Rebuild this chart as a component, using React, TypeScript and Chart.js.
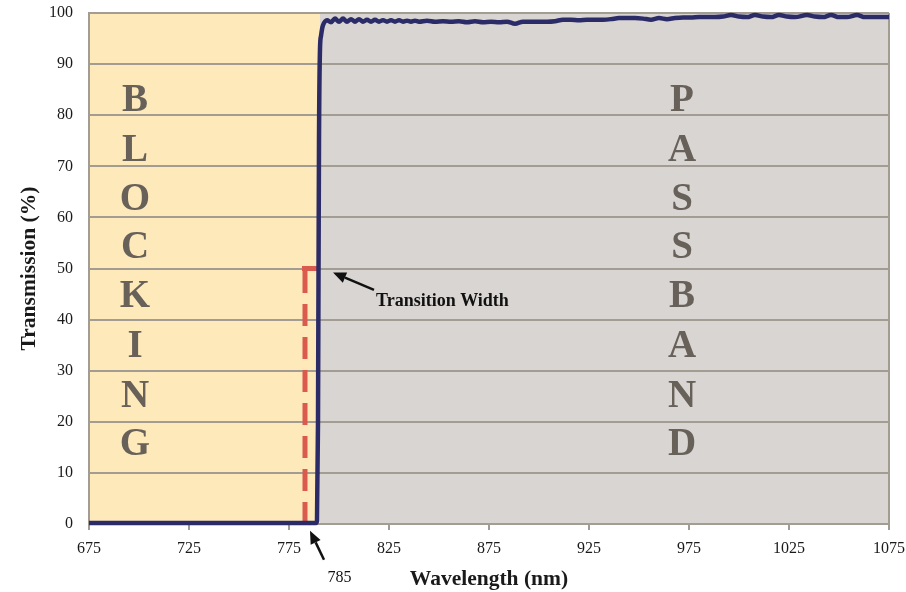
import { useEffect, useRef } from "react";
import { Chart, registerables } from "chart.js";

Chart.register(...registerables);

// ---- data ----
const wavelengths = [
  675, 700, 750, 780, 788.5, 789, 789.5, 790, 790.5, 791, 791.5, 792,
  794, 796, 798, 800, 802, 804, 806, 808, 810, 812, 814, 816, 818, 820,
  822, 824, 826, 828, 830, 832, 834, 836, 838, 840, 844, 848, 852, 856,
  860, 864, 868, 872, 876, 880, 884, 888, 892, 896, 900, 904, 908, 912,
  916, 920, 924, 928, 932, 936, 940, 944, 948, 952, 956, 960, 964, 968,
  972, 976, 980, 984, 988, 992, 996, 1000, 1004, 1008, 1012, 1016, 1020,
  1024, 1028, 1034, 1038, 1042, 1046, 1050, 1054, 1059, 1063, 1068, 1075,
];
const transmission = [
  0.2, 0.2, 0.2, 0.2, 0.2, 0.6, 20, 75, 93, 95.5, 96.8, 97.6,
  98.6, 98.2, 98.9, 98.3, 98.9, 98.3, 98.8, 98.3, 98.8, 98.3, 98.7, 98.3, 98.7, 98.3,
  98.6, 98.3, 98.6, 98.3, 98.6, 98.3, 98.5, 98.3, 98.5, 98.3, 98.5, 98.3, 98.4, 98.3,
  98.4, 98.2, 98.4, 98.2, 98.3, 98.2, 98.3, 97.9, 98.3, 98.3, 98.3, 98.3, 98.4, 98.7,
  98.7, 98.6, 98.7, 98.7, 98.7, 98.8, 99.0, 99.0, 99.0, 98.9, 98.7, 99.0, 98.8, 99.0,
  99.1, 99.1, 99.2, 99.2, 99.2, 99.3, 99.6, 99.3, 99.2, 99.6, 99.3, 99.2, 99.6,
  99.3, 99.2, 99.6, 99.3, 99.2, 99.6, 99.2, 99.2, 99.6, 99.2, 99.2, 99.2,
];

const xMin = 675;
const xMax = 1075;
const xStep = 50;
const yMin = 0;
const yMax = 100;
const yStep = 10;

const blockingLetters = ["B", "L", "O", "C", "K", "I", "N", "G"];
const passbandLetters = ["P", "A", "S", "S", "B", "A", "N", "D"];
const letterRows = [82.8, 73.0, 63.5, 54.0, 44.4, 34.6, 24.8, 15.5];
const blockingColumn = 698;
const passbandColumn = 971.5;

const blockingEdge = 790.5;
const cutOnMarker = 783;
const halfLevel = 50;
const halfLineStart = 781.5;

const transitionLabel = "Transition Width";
const transitionLabelPos = [818.5, 43.6];
const transitionArrowTail = [817.5, 45.8];
const transitionArrowTip = [797, 49.2];

const cutOnLabel = "785";
const cutOnLabelPos = [800.2, -10.6];
const cutOnArrowTail = [792.5, -7.0];
const cutOnArrowTip = [785.5, -1.3];

// ---- styles ----
const YELLOW = "#fde9ba";
const GRAY_BG = "#d9d5d3";
const GRID = "#a29c93";
const LETTER = "#67615a";
const RED = "#db5a4e";
const BLUE = "#2b2b68";
const SERIF = "'Liberation Serif', 'Times New Roman', serif";

function drawArrow(ctx: CanvasRenderingContext2D, x1: number, y1: number, x2: number, y2: number) {
  const ang = Math.atan2(y2 - y1, x2 - x1);
  const head = 13;
  const half = 5.5;
  const bx = x2 - head * Math.cos(ang);
  const by = y2 - head * Math.sin(ang);
  ctx.save();
  ctx.strokeStyle = "#111";
  ctx.fillStyle = "#111";
  ctx.lineWidth = 2.5;
  ctx.beginPath();
  ctx.moveTo(x1, y1);
  ctx.lineTo(bx, by);
  ctx.stroke();
  ctx.beginPath();
  ctx.moveTo(x2, y2);
  ctx.lineTo(bx + half * Math.sin(ang), by - half * Math.cos(ang));
  ctx.lineTo(bx - half * Math.sin(ang), by + half * Math.cos(ang));
  ctx.closePath();
  ctx.fill();
  ctx.restore();
}

const decorPlugin = {
  id: "decor",
  beforeDraw(chart: any) {
    const { ctx, chartArea: a, scales } = chart;
    const xe = scales.x.getPixelForValue(blockingEdge);
    ctx.save();
    ctx.fillStyle = YELLOW;
    ctx.fillRect(a.left, a.top, xe - a.left, a.bottom - a.top);
    ctx.fillStyle = GRAY_BG;
    ctx.fillRect(xe, a.top, a.right - xe, a.bottom - a.top);
    ctx.restore();
  },
  beforeDatasetsDraw(chart: any) {
    const { ctx, chartArea: a, scales } = chart;
    const x = scales.x;
    const y = scales.y;
    ctx.save();
    // right border
    ctx.strokeStyle = GRID;
    ctx.lineWidth = 2;
    ctx.beginPath();
    ctx.moveTo(a.right, a.top);
    ctx.lineTo(a.right, a.bottom + 6);
    ctx.stroke();
    // letters
    ctx.fillStyle = LETTER;
    ctx.font = `bold 39px ${SERIF}`;
    ctx.textAlign = "center";
    ctx.textBaseline = "middle";
    blockingLetters.forEach((l, i) => {
      ctx.fillText(l, x.getPixelForValue(blockingColumn), y.getPixelForValue(letterRows[i]));
    });
    passbandLetters.forEach((l, i) => {
      ctx.fillText(l, x.getPixelForValue(passbandColumn), y.getPixelForValue(letterRows[i]));
    });
    // red dashed marker
    ctx.strokeStyle = RED;
    ctx.lineWidth = 5;
    ctx.setLineDash([22, 11]);
    ctx.beginPath();
    ctx.moveTo(x.getPixelForValue(cutOnMarker), y.getPixelForValue(0));
    ctx.lineTo(x.getPixelForValue(cutOnMarker), y.getPixelForValue(halfLevel));
    ctx.stroke();
    ctx.setLineDash([]);
    ctx.beginPath();
    ctx.moveTo(x.getPixelForValue(halfLineStart), y.getPixelForValue(halfLevel));
    ctx.lineTo(x.getPixelForValue(blockingEdge), y.getPixelForValue(halfLevel));
    ctx.stroke();
    ctx.restore();
  },
  afterDatasetsDraw(chart: any) {
    const { ctx, scales } = chart;
    const x = scales.x;
    const y = scales.y;
    const px = (p: number[]) => [x.getPixelForValue(p[0]), y.getPixelForValue(p[1])];
    const [t1x, t1y] = px(transitionArrowTail);
    const [t2x, t2y] = px(transitionArrowTip);
    drawArrow(ctx, t1x, t1y, t2x, t2y);
    const [c1x, c1y] = px(cutOnArrowTail);
    const [c2x, c2y] = px(cutOnArrowTip);
    drawArrow(ctx, c1x, c1y, c2x, c2y);
    ctx.save();
    ctx.fillStyle = "#111";
    ctx.textBaseline = "middle";
    ctx.font = `bold 18px ${SERIF}`;
    ctx.textAlign = "left";
    const [lx, ly] = px(transitionLabelPos);
    ctx.fillText(transitionLabel, lx, ly);
    ctx.font = `16px ${SERIF}`;
    ctx.textAlign = "center";
    const [cx, cy] = px(cutOnLabelPos);
    ctx.fillText(cutOnLabel, cx, cy);
    ctx.restore();
  },
};

export default function App() {
  const ref = useRef<HTMLCanvasElement | null>(null);
  useEffect(() => {
    if (!ref.current) return;
    const chart = new Chart(ref.current, {
      type: "line",
      data: {
        datasets: [
          {
            data: wavelengths.map((w, i) => ({ x: w, y: transmission[i] })),
            borderColor: BLUE,
            borderWidth: 4.5,
            pointRadius: 0,
            fill: false,
            cubicInterpolationMode: "monotone",
            clip: 8,
          } as any,
        ],
      },
      options: {
        responsive: false,
        animation: false,
        events: [],
        layout: { padding: { top: 13, right: 17, bottom: 0, left: 0 } },
        plugins: { legend: { display: false }, tooltip: { enabled: false } },
        scales: {
          x: {
            type: "linear",
            min: xMin,
            max: xMax,
            afterFit: (s: any) => {
              s.height = 68;
              s.paddingLeft = 0;
              s.paddingRight = 0;
            },
            ticks: {
              stepSize: xStep,
              autoSkip: false,
              maxRotation: 0,
              padding: 9,
              color: "#1a1a1a",
              font: { family: SERIF, size: 16 },
              callback: (v: any) => String(v),
            },
            grid: { drawOnChartArea: false, drawTicks: true, tickLength: 6, color: GRID, lineWidth: 2 },
            border: { display: true, color: GRID, width: 2 },
            title: {
              display: true,
              text: "Wavelength (nm)",
              color: "#1a1a1a",
              font: { family: SERIF, size: 21.5, weight: "bold" },
              padding: { top: 0, bottom: 0 },
            },
          },
          y: {
            min: yMin,
            max: yMax,
            afterFit: (s: any) => {
              s.width = 89;
              s.paddingTop = 0;
              s.paddingBottom = 0;
            },
            ticks: {
              stepSize: yStep,
              padding: 16,
              color: "#1a1a1a",
              font: { family: SERIF, size: 16 },
              callback: (v: any) => String(v),
            },
            grid: { drawTicks: false, color: GRID, lineWidth: 2 },
            border: { display: true, color: GRID, width: 2 },
            title: {
              display: true,
              text: "Transmission (%)",
              color: "#1a1a1a",
              font: { family: SERIF, size: 21.5, weight: "bold" },
              padding: { top: 17, bottom: 0 },
            },
          },
        },
      },
      plugins: [decorPlugin],
    });
    return () => chart.destroy();
  }, []);
  return (
    <div style={{ position: "absolute", left: 0, top: 0, width: 906, height: 592, background: "#fff" }}>
      <canvas ref={ref} width={906} height={592} style={{ width: 906, height: 592, display: "block" }} />
    </div>
  );
}
